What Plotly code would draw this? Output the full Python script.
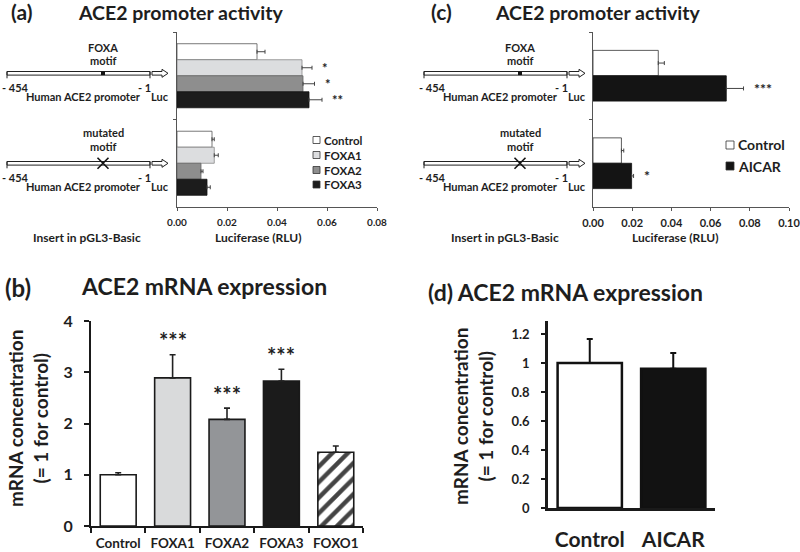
import plotly.graph_objects as go

W, H = 800, 552
FONT = "Lato"
INK = "#1e1e1e"

# ---- data ----
constructs = ["FOXA motif", "mutated motif"]

# (a) luciferase, FOXA overexpression
a_names = ["Control", "FOXA1", "FOXA2", "FOXA3"]
a_control = [0.0320, 0.0140]
a_foxa1 = [0.0500, 0.0149]
a_foxa2 = [0.0504, 0.0096]
a_foxa3 = [0.0528, 0.0120]
a_control_err = [0.0032, 0.0009]
a_foxa1_err = [0.0040, 0.0016]
a_foxa2_err = [0.0046, 0.0008]
a_foxa3_err = [0.0052, 0.0013]
a_stars = [["", ""], ["*", ""], ["*", ""], ["**", ""]]

# (c) luciferase, AICAR
c_names = ["Control", "AICAR"]
c_control = [0.0333, 0.0145]
c_aicar = [0.0680, 0.0197]
c_control_err = [0.0031, 0.0012]
c_aicar_err = [0.0088, 0.0010]
c_stars = [["", ""], ["***", "*"]]

# (b) mRNA, FOX overexpression
b_cats = ["Control", "FOXA1", "FOXA2", "FOXA3", "FOXO1"]
b_vals = [1.00, 2.89, 2.08, 2.83, 1.44]
b_err = [0.04, 0.45, 0.22, 0.23, 0.12]
b_stars = ["", "***", "***", "***", ""]

# (d) mRNA, AICAR
d_cats = ["Control", "AICAR"]
d_vals = [1.00, 0.96]
d_err = [0.165, 0.11]

luc_ticks_a = [0, 0.02, 0.04, 0.06, 0.08]
luc_ticks_c = [0, 0.02, 0.04, 0.06, 0.08, 0.10]
mrna_ticks_d = [0, 0.2, 0.4, 0.6, 0.8, 1, 1.2]


def px(x):
    return x / W


def py(y):
    return 1 - y / H


def bold(size, color=INK):
    return dict(family=FONT, size=size, color=color, weight="bold")


fig = go.Figure()
annotations = []
shapes = []


def text(s, x, y, size, xanchor="center", angle=0):
    annotations.append(dict(text=s, x=px(x), y=py(y), xref="paper", yref="paper",
                            xanchor=xanchor, yanchor="middle", showarrow=False,
                            font=bold(size), textangle=angle, borderpad=0))


# ---- horizontal luciferase panels ----
def hbars(names, series, errs, stars, colors, lines, w, xa, ya, star_size):
    n = len(names)
    for i in range(n):
        off = -n * w / 2 + i * w
        fig.add_trace(go.Bar(
            x=series[i], y=constructs, orientation="h", name=names[i],
            width=w, offset=off, xaxis=xa, yaxis=ya, showlegend=False,
            marker=dict(color=colors[i], line=dict(color=lines[i], width=0.8)),
            error_x=dict(type="data", array=errs[i], arrayminus=[0] * len(constructs),
                         symmetric=False, color="#444", thickness=1, width=2),
        ))
        for j, s in enumerate(stars[i]):
            if s:
                annotations.append(dict(text=s, x=series[i][j] + errs[i][j], y=j + off + w / 2,
                                        xref=xa, yref=ya, xanchor="left", yanchor="middle",
                                        xshift=8, showarrow=False, font=bold(star_size)))


hbars(a_names, [a_control, a_foxa1, a_foxa2, a_foxa3],
      [a_control_err, a_foxa1_err, a_foxa2_err, a_foxa3_err], a_stars,
      ["#ffffff", "#dcdddf", "#8e8e8e", "#1c1c1c"], ["#555", "#888", "#666", "#111"],
      0.183, "x", "y", 13)
hbars(c_names, [c_control, c_aicar], [c_control_err, c_aicar_err], c_stars,
      ["#ffffff", "#141414"], ["#333", "#111"], 0.29, "x2", "y2", 14)

# ---- vertical mRNA panels ----
fig.add_trace(go.Bar(
    x=b_cats, y=b_vals, width=0.66, xaxis="x3", yaxis="y3", showlegend=False,
    marker=dict(color=["#ffffff", "#d9dadb", "#939598", "#1b1b1b", "#ffffff"],
                line=dict(color="#1a1a1a", width=1.6),
                pattern=dict(shape=["", "", "", "", "/"], fgcolor="#000000", fgopacity=1,
                             bgcolor="#ffffff", fillmode="overlay", size=11, solidity=0.4)),
    error_y=dict(type="data", array=b_err, arrayminus=[0] * len(b_cats), symmetric=False,
                 color="#222", thickness=1.6, width=3),
))
for c, v, e, s in zip(b_cats, b_vals, b_err, b_stars):
    if s:
        annotations.append(dict(text=s, x=c, y=v + e, xref="x3", yref="y3", yanchor="middle",
                                yshift=14, showarrow=False, font=bold(22)))

fig.add_trace(go.Bar(
    x=d_cats, y=d_vals, width=0.77, xaxis="x4", yaxis="y4", showlegend=False,
    marker=dict(color=["#ffffff", "#121212"], line=dict(color="#111", width=2.5)),
    error_y=dict(type="data", array=d_err, arrayminus=[0] * len(d_cats), symmetric=False,
                 color="#111", thickness=2, width=3),
))

# ---- promoter construct diagrams ----
def construct(dx, yc, mutated):
    x0, x1 = 7 + dx, 150 + dx
    line = dict(color="#222", width=1)
    shapes.append(dict(type="rect", xref="paper", yref="paper", x0=px(x0), x1=px(x1),
                       y0=py(yc + 1.8), y1=py(yc - 1.8), line=line, fillcolor="white"))
    for xe in (x0, x1):
        shapes.append(dict(type="line", xref="paper", yref="paper", x0=px(xe), x1=px(xe),
                           y0=py(yc - 1.8), y1=py(yc + 5), line=line))
    a0, a1, a2 = x1 + 2, x1 + 12, x1 + 18
    pts = [(a0, yc - 1.8), (a1, yc - 1.8), (a1, yc - 4), (a2, yc), (a1, yc + 4),
           (a1, yc + 1.8), (a0, yc + 1.8)]
    path = "M " + " L ".join(f"{px(x):.5f},{py(y):.5f}" for x, y in pts) + " Z"
    shapes.append(dict(type="path", xref="paper", yref="paper", path=path, line=line,
                       fillcolor="white"))
    m = 103 + dx
    if mutated:
        for s in (1, -1):
            shapes.append(dict(type="line", xref="paper", yref="paper", x0=px(m - 5.5),
                               x1=px(m + 5.5), y0=py(yc - 5.5 * s), y1=py(yc + 5.5 * s),
                               line=dict(color="#111", width=1.6)))
        text("mutated", m, yc - 31, 11)
        text("motif", m, yc - 17, 11)
    else:
        shapes.append(dict(type="rect", xref="paper", yref="paper", x0=px(m - 2), x1=px(m + 2),
                           y0=py(yc + 1.8), y1=py(yc - 1.8), line=dict(width=0),
                           fillcolor="#111"))
        text("FOXA", m, yc - 26, 11)
        text("motif", m, yc - 13, 11)
    text("- 454", 1 + dx, yc + 14, 11, xanchor="left")
    text("Human ACE2 promoter", 83 + dx, yc + 23.5, 11)
    text("- 1", 144 + dx, yc + 14, 11)
    text("Luc", 160 + dx, yc + 23.5, 11)


for dx in (0, 417):
    construct(dx, 73.3, False)
    construct(dx, 163.3, True)

# ---- manual legends ----
def legend(x, ys, labels, colors, size, sq):
    for y, lab, col in zip(ys, labels, colors):
        shapes.append(dict(type="rect", xref="paper", yref="paper", x0=px(x), x1=px(x + sq),
                           y0=py(y + sq / 2), y1=py(y - sq / 2),
                           line=dict(color="#333", width=0.8), fillcolor=col))
        text(lab, x + sq + 3, y, size, xanchor="left")


legend(313, [140, 155, 170, 184.5], a_names, ["#ffffff", "#dcdddf", "#8e8e8e", "#1c1c1c"], 11.5, 7)
legend(726, [145, 166], c_names, ["#ffffff", "#141414"], 14, 8)

# ---- titles and labels ----
text("(a)", 21, 12, 21)
text("ACE2 promoter activity", 77, 13, 19.5, xanchor="left")
text("(c)", 441, 12, 21)
text("ACE2 promoter activity", 494, 13, 19.5, xanchor="left")
text("(b)", 18, 287, 24)
text("ACE2 mRNA expression", 80, 286, 23, xanchor="left")
text("(d) ACE2 mRNA expression", 427, 292, 23, xanchor="left")
text("Insert in pGL3-Basic", 87, 237, 12)
text("Luciferase (RLU)", 258, 237, 12)
text("Insert in pGL3-Basic", 505, 237, 12)
text("Luciferase (RLU)", 675, 237, 12)
text("mRNA concentration<br>(= 1 for control)", 28, 419, 19, angle=-90)
text("mRNA concentration<br>(= 1 for control)", 473, 417, 19, angle=-90)

thin = dict(showline=True, linecolor="#555", linewidth=1, ticks="outside", ticklen=3,
            tickcolor="#555", showgrid=False, zeroline=False, automargin=False)
thick = dict(showline=True, linecolor="#1a1a1a", linewidth=2, ticks="outside", ticklen=5,
             tickwidth=2, tickcolor="#1a1a1a", showgrid=False, zeroline=False, automargin=False)

fig.update_layout(
    width=W, height=H, margin=dict(l=0, r=0, t=0, b=0, autoexpand=False),
    paper_bgcolor="white", plot_bgcolor="white", barmode="overlay",
    xaxis=dict(thin, domain=[px(177), px(377)], anchor="y", range=[0, 0.08],
               tickvals=luc_ticks_a, tickformat=".2f", tickfont=bold(10), ticklabelstandoff=3),
    yaxis=dict(thin, domain=[py(207), py(32)], anchor="x", type="category",
               categoryarray=constructs, range=[1.5, -0.5], tickson="boundaries",
               showticklabels=False),
    xaxis2=dict(thin, domain=[px(593), px(789)], anchor="y2", range=[0, 0.1],
                tickvals=luc_ticks_c, tickformat=".2f", tickfont=bold(11), ticklabelstandoff=3,
                ticklabeloverflow="allow"),
    yaxis2=dict(thin, domain=[py(207), py(32)], anchor="x2", type="category",
                categoryarray=constructs, range=[1.5, -0.5], tickson="boundaries",
                showticklabels=False),
    xaxis3=dict(thick, domain=[px(91), px(363)], anchor="y3", type="category",
                tickson="boundaries", tickwidth=1.5, tickangle=0, tickfont=bold(13.5),
                ticklabelstandoff=4),
    yaxis3=dict(thick, domain=[py(526), py(321)], anchor="x3", range=[0, 4], dtick=1,
                tickfont=bold(16), ticklabelstandoff=8),
    xaxis4=dict(thick, domain=[px(548), px(715)], anchor="y4", type="category", ticks="",
                linewidth=2.5, tickangle=0, tickfont=bold(21), ticklabelstandoff=11),
    yaxis4=dict(thick, domain=[py(508), py(321)], anchor="x4", range=[0, 1.29],
                tickvals=mrna_ticks_d, ticklen=4, linewidth=2.5,
                tickfont=bold(13), ticklabelstandoff=9),
    annotations=annotations, shapes=shapes,
)

# the page's default body margin would push the fixed-size figure off the window
fig.write_html("out.html", config={"displayModeBar": False},
               post_script="document.body.style.margin = '0';")
